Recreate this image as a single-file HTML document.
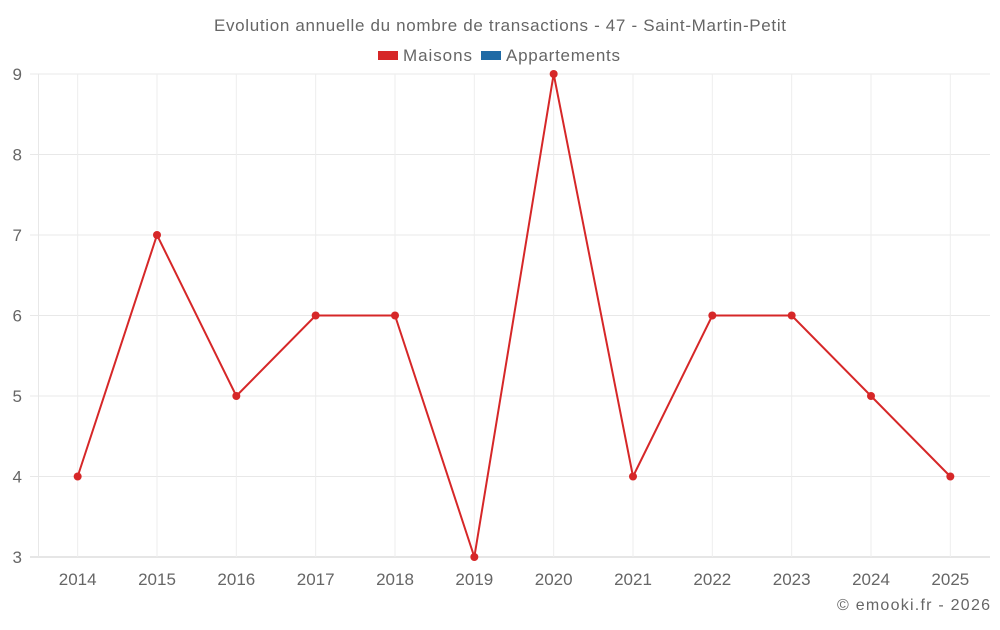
<!DOCTYPE html>
<html><head><meta charset="utf-8"><style>
body{margin:0;background:#fff;font-family:"Liberation Sans",sans-serif}
svg text{font-family:"Liberation Sans",sans-serif;fill:#666}
</style></head><body>
<svg width="1000" height="625">
<text x="500" y="31" text-anchor="middle" font-size="17" textLength="572">Evolution annuelle du nombre de transactions - 47 - Saint-Martin-Petit</text>
<g>
<rect x="378" y="51" width="20" height="9" fill="#d62728"/>
<text x="403" y="61" font-size="17" textLength="69">Maisons</text>
<rect x="481" y="51" width="20" height="9" fill="#1f6aa5"/>
<text x="506" y="61" font-size="17" textLength="114">Appartements</text>
</g>
<g id="grid"></g><g id="axes"></g><g id="series"></g>
<text x="990" y="610" text-anchor="end" font-size="16" textLength="153">© emooki.fr - 2026</text>
</svg>
<script>
const categories=["2014","2015","2016","2017","2018","2019","2020","2021","2022","2023","2024","2025"];
const maisons=[4,7,5,6,6,3,9,4,6,6,5,4];
const yTicks=[3,4,5,6,7,8,9];
const L=38,R=990,T=74,B=557,ns="http://www.w3.org/2000/svg";
const bw=(R-L)/categories.length;
const x=i=>L+bw*(i+0.5);
const y=v=>B-(v-3)/(9-3)*(B-T);
function mk(t,a,p){const e=document.createElementNS(ns,t);for(const k in a)e.setAttribute(k,a[k]);p.appendChild(e);return e;}
const g=document.getElementById('grid'),ax=document.getElementById('axes'),s=document.getElementById('series');
yTicks.forEach(v=>{
const l=mk('line',{x1:30,x2:R,y1:y(v),y2:y(v),stroke:v===3?'#ccc':'#e8e8e8'},g);


const t=mk('text',{x:22,y:y(v)+6,'text-anchor':'end','font-size':17},ax);t.textContent=v;


});
const l0=mk('line',{x1:L+.5,x2:L+.5,y1:T,y2:B,stroke:'#e8e8e8'},g);


categories.forEach((c,i)=>{
const l=mk('line',{x1:x(i),x2:x(i),y1:T,y2:B,stroke:'#eeeeee'},g);


const t=mk('text',{x:x(i),y:585,'text-anchor':'middle','font-size':17},ax);t.textContent=c;


});
const p=mk('polyline',{points:maisons.map((v,i)=>x(i)+','+y(v)).join(' '),fill:'none',stroke:'#d62728','stroke-width':2},s);


maisons.forEach((v,i)=>{
const c=mk('circle',{cx:x(i),cy:y(v),r:4,fill:'#d62728'},s);


});
</script>
</body></html>
